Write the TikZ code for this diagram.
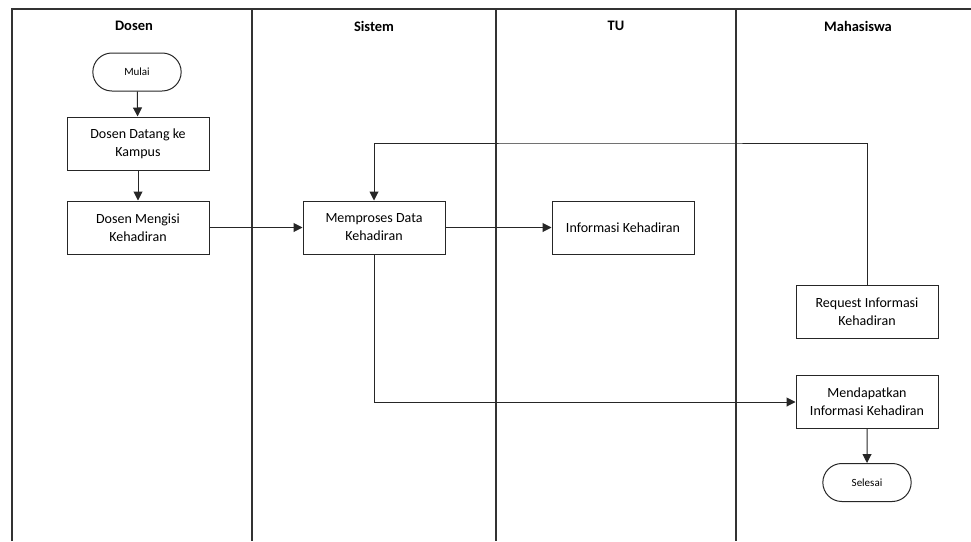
\documentclass[tikz,border=0pt]{standalone}
\usepackage{fontspec}
\setmainfont{Carlito}
\usetikzlibrary{arrows.meta,shapes.misc}
\begin{document}
\begin{tikzpicture}[x=1pt,y=-1pt,
  lane/.style={draw=black!80, line width=1.1pt},
  proc/.style={draw=black!85, line width=1pt, minimum width=142pt, minimum height=53pt,
    align=center, font=\fontsize{14}{18}\selectfont, inner sep=2pt},
  term/.style={draw=black!85, line width=1pt, rounded rectangle, minimum width=95pt,
    minimum height=38pt, font=\fontsize{11}{13}\selectfont},
  head/.style={font=\fontsize{14.5}{16}\selectfont\bfseries},
  flow/.style={draw=black!85, line width=1pt, -{Triangle[length=9pt,width=9pt]}}
]
\useasboundingbox (0,0) rectangle (971,541);

% swimlane frame
\draw[lane] (12,541) -- (12,9) -- (971,9);
\draw[lane] (252,9) -- (252,541);
\draw[lane] (496,9) -- (496,541);
\draw[lane] (736,9) -- (736,541);

% lane titles
\node[head] (hDosen) at (134,26) {Dosen};
\node[head] (hSistem) at (374,26) {Sistem};
\node[head] (hTU) at (616,26) {TU};
\node[head] (hMhs) at (858,26) {Mahasiswa};

% steps
\node[term] (mulai) at (137,72) {Mulai};
\node[proc] (datang) at (138,143.5) {Dosen Datang ke\\Kampus};
\node[proc] (isi) at (138,227.5) {Dosen Mengisi\\Kehadiran};
\node[proc] (proses) at (374,227.5) {Memproses Data\\Kehadiran};
\node[proc] (info) at (623,227.5) {Informasi Kehadiran};
\node[proc] (request) at (867,312) {Request Informasi\\Kehadiran};
\node[proc] (dapat) at (867,402) {Mendapatkan\\Informasi Kehadiran};
\node[term] (selesai) at (867,482.5) {Selesai};

% connectors
\draw[flow] (mulai) -- (datang);
\draw[flow] (datang) -- (isi);
\draw[flow] (isi) -- (proses);
\draw[flow] (proses) -- (info);
\draw[flow] (request.north) |- (620,143) -| (proses.north);
\draw[flow] (proses.south) |- (dapat.west);
\draw[flow] (dapat) -- (selesai);
\end{tikzpicture}
\end{document}
